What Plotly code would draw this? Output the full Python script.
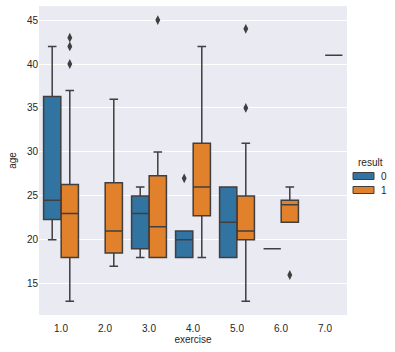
import plotly.graph_objects as go

# Categories
exercise = ["1.0", "2.0", "3.0", "4.0", "5.0", "6.0", "7.0"]

# result = 0 boxes (precomputed stats)
r0_x = ["1.0", "3.0", "4.0", "5.0", "6.0"]
r0_q1 = [22.3, 19.0, 18.0, 18.0, 19.0]
r0_med = [24.5, 23.0, 20.0, 22.0, 19.0]
r0_q3 = [36.3, 25.0, 21.0, 26.0, 19.0]
r0_lo = [20.0, 18.0, 18.0, 18.0, 19.0]
r0_hi = [42.0, 26.0, 21.0, 26.0, 19.0]
r0_out_x = ["4.0"]
r0_out_y = [27.0]

# result = 1 boxes
r1_x = ["1.0", "2.0", "3.0", "4.0", "5.0", "6.0", "7.0"]
r1_q1 = [18.0, 18.5, 18.0, 22.75, 20.0, 22.0, 41.0]
r1_med = [23.0, 21.0, 21.5, 26.0, 21.0, 24.0, 41.0]
r1_q3 = [26.3, 26.5, 27.3, 31.0, 25.0, 24.5, 41.0]
r1_lo = [13.0, 17.0, 18.0, 18.0, 13.0, 22.0, 41.0]
r1_hi = [37.0, 36.0, 30.0, 42.0, 31.0, 26.0, 41.0]
r1_out_x = ["1.0", "1.0", "1.0", "3.0", "5.0", "5.0", "6.0"]
r1_out_y = [43.0, 42.0, 40.0, 45.0, 44.0, 35.0, 16.0]

C0 = "#3274a1"
C1 = "#e1812c"
LINE = "#3f3f3f"

fig = go.Figure()
fig.add_trace(go.Box(
    name="0", x=r0_x, q1=r0_q1, median=r0_med, q3=r0_q3,
    lowerfence=r0_lo, upperfence=r0_hi, fillcolor=C0,
    line=dict(color=LINE, width=1.5), whiskerwidth=0.5,
    boxpoints=False, offsetgroup="0", showlegend=False))
fig.add_trace(go.Box(
    name="1", x=r1_x, q1=r1_q1, median=r1_med, q3=r1_q3,
    lowerfence=r1_lo, upperfence=r1_hi, fillcolor=C1,
    line=dict(color=LINE, width=1.5), whiskerwidth=0.5,
    boxpoints=False, offsetgroup="1", showlegend=False))

# Outliers (positioned via category + offset group)
fig.add_trace(go.Scatter(
    x=r0_out_x, y=r0_out_y, mode="markers", offsetgroup="0",
    marker=dict(symbol="diamond-tall", size=7, color=LINE),
    showlegend=False, hoverinfo="y"))
fig.add_trace(go.Scatter(
    x=r1_out_x, y=r1_out_y, mode="markers", offsetgroup="1",
    marker=dict(symbol="diamond-tall", size=7, color=LINE),
    showlegend=False, hoverinfo="y"))

font = dict(family="Liberation Sans, Arial, sans-serif", size=10, color="#262626")

fig.update_layout(
    width=395, height=352,
    margin=dict(l=39, r=48, t=6, b=37),
    paper_bgcolor="white", plot_bgcolor="#EAEAF2",
    boxmode="group", boxgap=0.2, boxgroupgap=0.02,
    scattermode="group", scattergap=0.2,
    font=font,
    xaxis=dict(type="category", categoryorder="array", categoryarray=exercise,
               range=[-0.5, 6.5], showgrid=False, zeroline=False,
               ticks="", ticklabelstandoff=6,
               title=dict(text="exercise", standoff=1, font=font),
               tickfont=font),
    yaxis=dict(range=[11.45, 46.6], tickvals=[15, 20, 25, 30, 35, 40, 45],
               gridcolor="white", gridwidth=1, zeroline=False, ticks="",
               title=dict(text="age", standoff=8, font=font), tickfont=font),
)

# Manual legend
fig.add_annotation(xref="paper", yref="paper", x=(356 - 39) / 308, y=(315 - 162) / 309,
                   text="result", showarrow=False, xanchor="left", yanchor="middle",
                   font=font)
for i, (lab, col) in enumerate([("0", C0), ("1", C1)]):
    yc = 176 + i * 14
    fig.add_shape(type="rect", xref="paper", yref="paper",
                  x0=(353 - 39) / 308, x1=(374 - 39) / 308,
                  y0=(315 - yc - 3.5) / 309, y1=(315 - yc + 3.5) / 309,
                  fillcolor=col, line=dict(color=LINE, width=1))
    fig.add_annotation(xref="paper", yref="paper", x=(379 - 39) / 308, y=(315 - yc) / 309,
                       text=lab, showarrow=False, xanchor="left", yanchor="middle",
                       font=font)

fig.write_html("out.html", config={"displayModeBar": False},
               post_script="document.body.style.margin='0';")
